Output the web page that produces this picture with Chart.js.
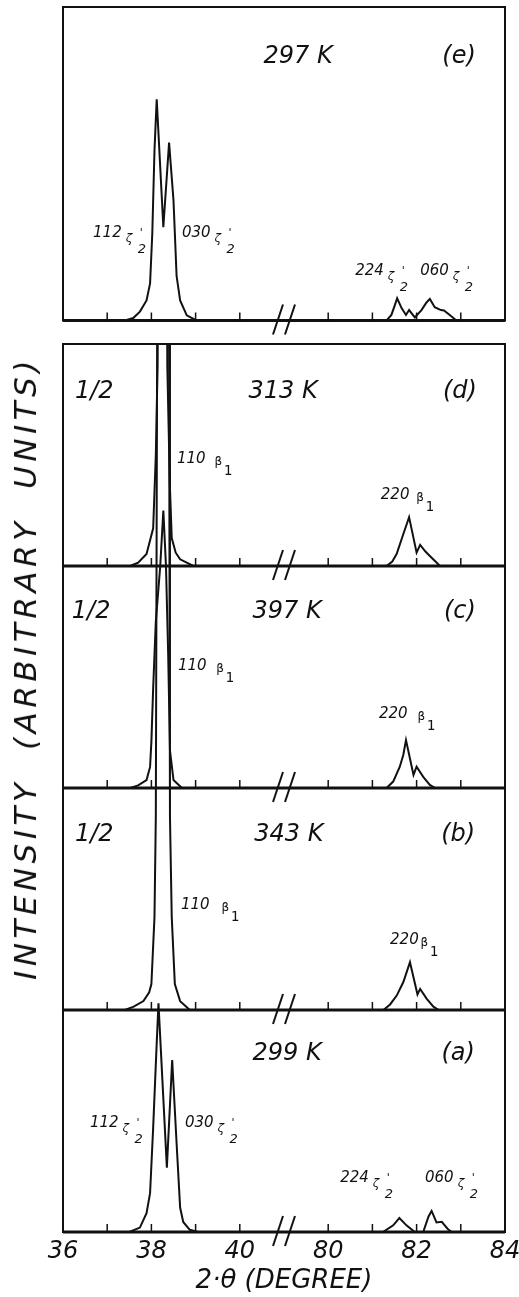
<!DOCTYPE html>
<html>
<head>
<meta charset="utf-8">
<script src="https://cdn.jsdelivr.net/npm/chart.js@4.4.0/dist/chart.umd.min.js"></script>
<style>
  html, body { margin: 0; background: #fff; }
  #wrap { position: relative; width: 519px; height: 1297px; overflow: hidden; }
  canvas { position: absolute; left: 0; }
  #top { top: 0; }
  #stack { top: 330px; }
  #ylabel {
    position: absolute; left: 25px; top: 668px;
    transform: translate(-50%, -50%) rotate(-90deg);
    font: italic 31px "DejaVu Sans"; letter-spacing: 4.5px;
    white-space: pre; color: #111;
  }
</style>
</head>
<body>
<div id="wrap">
  <canvas id="top" width="519" height="340"></canvas>
  <canvas id="stack" width="519" height="967"></canvas>
  <div id="ylabel">INTENSITY  (ARBITRARY  UNITS)</div>
</div>
<script>
const INK = '#111';

// 2θ (deg) and intensity (arb. units) per temperature
const theta297 = [36, 37.4, 37.59, 37.74, 37.89, 37.97, 38.02, 38.07, 38.12, 38.27, 38.40, 38.50, 38.57, 38.65, 38.80, 39.02, 40,
  80, 81.32, 81.43, 81.51, 81.56, 81.66, 81.76, 81.83, 81.96, 82.11, 82.22, 82.30, 82.41, 82.55, 82.62, 82.75, 82.90, 84];
const int297 = [0, 0, 1.1, 4, 9, 16.7, 39, 76.6, 99.5, 42, 80, 54, 20, 9, 2.3, 0, 0,
  0, 0, 2.5, 7, 10, 5.6, 2.5, 4.7, 1.4, 4.7, 8, 9.7, 6, 4.7, 4.5, 2.5, 0, 0];

const theta313 = [36, 37.52, 37.7, 37.89, 38.04, 38.10, 38.14, 38.27, 38.36, 38.42, 38.46, 38.55, 38.65, 38.95, 40,
  80, 81.32, 81.45, 81.55, 81.70, 81.83, 82.0, 82.08, 82.20, 82.30, 82.53, 84];
const int313 = [0, 0, 1.5, 5.4, 17, 50, 90, 600, 90, 35, 12.6, 6, 3, 0, 0,
  0, 0, 2, 5.5, 14.4, 22, 6, 9.5, 6.5, 4.5, 0, 0];

const theta397 = [36, 37.52, 37.7, 37.89, 37.97, 38.0, 38.04, 38.10, 38.20, 38.27, 38.33, 38.38, 38.42, 38.5, 38.69, 40,
  80, 81.32, 81.47, 81.62, 81.70, 81.76, 81.93, 82.0, 82.15, 82.30, 82.42, 84];
const int397 = [0, 0, 1.2, 3.6, 9.5, 21, 45, 75, 100, 125, 100, 60, 17, 3.6, 0, 0,
  0, 0, 2.9, 9.6, 15, 21.6, 5.9, 9.6, 5, 1.4, 0, 0];

const theta343 = [36, 37.4, 37.6, 37.82, 37.95, 38.0, 38.07, 38.10, 38.13, 38.27, 38.40, 38.42, 38.46, 38.53, 38.65, 38.87, 40,
  80, 81.25, 81.40, 81.55, 81.70, 81.85, 82.02, 82.08, 82.23, 82.38, 82.5, 84];
const int343 = [0, 0, 1.5, 4, 8, 11.7, 42, 87, 300, 2000, 300, 87, 42, 11.7, 4, 0, 0,
  0, 0, 2.5, 6.5, 12.6, 21.5, 7, 9.5, 5, 1.5, 0, 0];

const theta299 = [36, 37.5, 37.74, 37.89, 37.97, 38.04, 38.12, 38.16, 38.35, 38.47, 38.57, 38.65, 38.72, 38.87, 39.05, 40,
  80, 81.24, 81.47, 81.61, 81.77, 81.96, 82.15, 82.27, 82.34, 82.45, 82.57, 82.70, 82.79, 84];
const int299 = [0, 0, 2, 8.5, 17.5, 47, 85, 103, 29, 77.5, 40, 11, 4.5, 1, 0, 0,
  0, 0, 3, 6.3, 3, 0, 0, 7, 9.5, 4.3, 4.6, 1.5, 0, 0];

const tickDegrees = [36, 38, 40, 80, 82, 84];
const minorDegrees = [37, 38, 39, 40, 80, 81, 82, 83];

const temps = ['297 K', '313 K', '397 K', '343 K', '299 K'];
const tags = ['(e)', '(d)', '(c)', '(b)', '(a)'];
const notes = ['', '1/2', '1/2', '1/2', ''];

// broken axis: 40° is followed directly by 80°, two axis units apart
const toAxis = t => (t >= 80 ? t - 38 : t);
const fromAxis = u => (u > 41 ? u + 38 : u);

// caption placement per panel: [x, height above the panel baseline]
const capPos = [
  { note: null, temp: [41.32, 116], tag: [44.96, 116] },
  { note: [36.27, 75.7], temp: [40.98, 75.7], tag: [44.98, 75.7] },
  { note: [36.2, 76.6], temp: [41.07, 76.6], tag: [44.98, 76.6] },
  { note: [36.27, 76], temp: [41.11, 76], tag: [44.94, 76] },
  { note: null, temp: [41.07, 77.5], tag: [44.94, 77.5] },
];

// reflection labels per panel: hkl, phase, x (deg), height, gap before subscript
const peakLabels = [
  [['112', 'z', 36.68, 37.6], ['030', 'z', 38.69, 37.6], ['224', 'z', 80.61, 20.5], ['060', 'z', 82.08, 20.5]],
  [['110', 'b', 38.58, 46.4, 9], ['220', 'b', 81.19, 30, 7]],
  [['110', 'b', 38.6, 53, 10], ['220', 'b', 81.15, 31.5, 10]],
  [['110', 'b', 38.67, 45.5, 12], ['220', 'b', 81.4, 29.7, 2]],
  [['112', 'z', 36.61, 47.3], ['030', 'z', 38.76, 47.3], ['224', 'z', 80.27, 22.5], ['060', 'z', 82.19, 22.5]],
];

function line(ctx, x1, y1, x2, y2) {
  ctx.beginPath();
  ctx.moveTo(x1, y1);
  ctx.lineTo(x2, y2);
  ctx.stroke();
}

function drawPeakLabel(ctx, px, py, [hkl, phase, , , gap]) {
  ctx.textAlign = 'left';
  ctx.textBaseline = 'alphabetic';
  ctx.font = 'italic 15px "DejaVu Sans"';
  ctx.fillText(hkl, px, py);
  const end = px + ctx.measureText(hkl).width;
  if (phase === 'z') {
    ctx.font = 'italic 12px "DejaVu Sans"';
    ctx.fillText('ζ', end + 4, py + 5);
    ctx.font = '11px "DejaVu Sans"';
    ctx.fillText('\'', end + 18, py - 1);
    ctx.font = 'italic 13px "DejaVu Sans"';
    ctx.fillText('2', end + 16, py + 16);
  } else {
    ctx.font = '12px "DejaVu Sans Mono"';
    ctx.fillText('β', end + gap, py + 2);
    ctx.font = '14px "DejaVu Sans Mono"';
    ctx.fillText('1', end + gap + 9, py + 12);
  }
}

// frame, baselines with inward ticks, axis-break marks and captions
const decor = {
  id: 'decor',
  afterDatasetsDraw(chart, args, o) {
    const { ctx, chartArea: a, scales: { x, y } } = chart;
    ctx.save();
    ctx.strokeStyle = INK;
    ctx.fillStyle = INK;
    ctx.lineWidth = 2;
    ctx.strokeRect(a.left, a.top, a.width, a.height);

    o.panels.forEach(p => {
      const py = y.getPixelForValue(p.base);
      ctx.lineWidth = 3;
      line(ctx, a.left, py, a.right, py);
      ctx.lineWidth = 1.5;
      minorDegrees.forEach(d => {
        const px = x.getPixelForValue(toAxis(d));
        line(ctx, px, py, px, py - 8);
      });
      const bx = x.getPixelForValue(41);
      ctx.lineWidth = 2;
      [-6, 6].forEach(dx => line(ctx, bx + dx - 5, py + 14, bx + dx + 5, py - 16));

      const cap = capPos[p.idx];
      ctx.font = 'italic 24px "DejaVu Sans"';
      ctx.textBaseline = 'alphabetic';
      ctx.textAlign = 'center';
      ctx.fillText(temps[p.idx], x.getPixelForValue(cap.temp[0]), y.getPixelForValue(p.base + cap.temp[1]));
      ctx.fillText(tags[p.idx], x.getPixelForValue(cap.tag[0]), y.getPixelForValue(p.base + cap.tag[1]));
      if (cap.note) {
        ctx.textAlign = 'left';
        ctx.fillText(notes[p.idx], x.getPixelForValue(cap.note[0]), y.getPixelForValue(p.base + cap.note[1]));
      }
      peakLabels[p.idx].forEach(l => {
        drawPeakLabel(ctx, x.getPixelForValue(toAxis(l[2])), y.getPixelForValue(p.base + l[3]), l);
      });
    });
    ctx.restore();
  }
};

function trace(theta, counts, offset) {
  return {
    data: theta.map((t, i) => ({ x: toAxis(t), y: counts[i] + offset })),
    borderColor: INK,
    borderWidth: 2,
    pointRadius: 0,
    tension: 0,
  };
}

Chart.defaults.font.family = '"DejaVu Sans"';
Chart.defaults.color = INK;

const common = {
  responsive: false,
  animation: false,
  devicePixelRatio: 1,
  events: [],
};

new Chart(document.getElementById('top'), {
  type: 'line',
  data: { datasets: [trace(theta297, int297, 0)] },
  options: {
    ...common,
    layout: { padding: { left: 63, right: 14, top: 7, bottom: 19.5 } },
    scales: {
      x: { type: 'linear', min: 36, max: 46, display: false },
      y: { min: 0, max: 141, display: false },
    },
    plugins: {
      legend: { display: false },
      tooltip: { enabled: false },
      decor: { panels: [{ base: 0, idx: 0 }] },
    },
  },
  plugins: [decor],
});

// the four lower patterns share one frame, each lifted by one panel height
const offsets = [300, 200, 100, 0];
new Chart(document.getElementById('stack'), {
  type: 'line',
  data: {
    datasets: [
      trace(theta313, int313, offsets[0]),
      trace(theta397, int397, offsets[1]),
      trace(theta343, int343, offsets[2]),
      trace(theta299, int299, offsets[3]),
    ],
  },
  options: {
    ...common,
    layout: { padding: { left: 63, right: 14, top: 14, bottom: 0 } },
    scales: {
      x: {
        type: 'linear', min: 36, max: 46,
        grid: { display: false, drawTicks: false },
        border: { display: false },
        ticks: {
          stepSize: 1, autoSkip: false, maxRotation: 0, padding: 5,
          font: { size: 24, style: 'italic' },
          callback: v => (tickDegrees.includes(fromAxis(v)) ? String(fromAxis(v)) : ''),
        },
        title: {
          display: true, text: '2·θ (DEGREE)', padding: 0,
          font: { size: 26, style: 'italic' },
        },
        afterFit: s => { s.height = 65; s.paddingLeft = 0; s.paddingRight = 0; },
      },
      y: { min: 0, max: 400, display: false },
    },
    plugins: {
      legend: { display: false },
      tooltip: { enabled: false },
      decor: { panels: offsets.map((b, i) => ({ base: b, idx: i + 1 })) },
    },
  },
  plugins: [decor],
});
</script>
</body>
</html>
